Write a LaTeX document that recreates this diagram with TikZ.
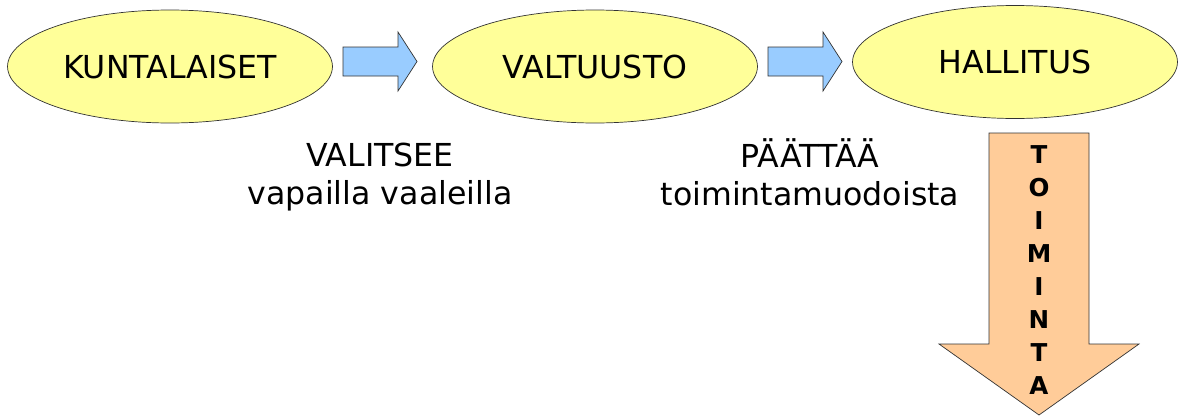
\documentclass[tikz,border=0pt]{standalone}
\usepackage{fontspec}
\setmainfont{DejaVu Sans}
\usetikzlibrary{shapes.geometric}

\definecolor{elliyellow}{HTML}{FFFF99}
\definecolor{arrowblue}{HTML}{99CCFF}
\definecolor{arroworange}{HTML}{FFCC99}

\tikzset{
	elli/.style={ellipse,draw=black!80,fill=elliyellow,inner sep=0pt,
		minimum width=6.5cm,minimum height=2.26cm,font=\fontsize{18}{22}\selectfont},
	blockarrow/.style={draw=black!80,fill=arrowblue,line join=miter},
	caption/.style={align=center,font=\fontsize{18}{21.5}\selectfont}
}

\begin{document}
\begin{tikzpicture}[x=0.02cm,y=-0.02cm]
	\useasboundingbox (0,0) rectangle (1179,416);
	
	%ellipses
	\node[elli] (kunta) at (170,66.5) {KUNTALAISET};
	\node[elli] (valt)  at (595,66.5) {VALTUUSTO};
	\node[elli] (hall)  at (1015,62)  {HALLITUS};
	
	%block arrows
	\draw[blockarrow] (343,47)--(398,47)--(398,32)--(417,61.5)--(398,91)--(398,76)--(343,76)--cycle;
	\draw[blockarrow] (768,47)--(823,47)--(823,32)--(842,61.5)--(823,91)--(823,76)--(768,76)--cycle;
	\draw[blockarrow,fill=arroworange] (989,133)--(1089,133)--(1089,344)--(1139,344)--(1039,415)--(939,344)--(989,344)--cycle;
	
	%captions
	\node[caption] (valitsee) at (380,177) {VALITSEE\\vapailla vaaleilla};
	\node[caption] (paattaa)  at (810,172) {PÄÄTTÄÄ\\toimintamuodoista};
	
	%letters in the arrow
	\foreach \l [count=\i] in {T,O,I,M,I,N,T,A}
		\node[font=\fontsize{14}{16}\selectfont\bfseries] (toim\i) at (1039,122+33*\i) {\l};
\end{tikzpicture}
\end{document}
